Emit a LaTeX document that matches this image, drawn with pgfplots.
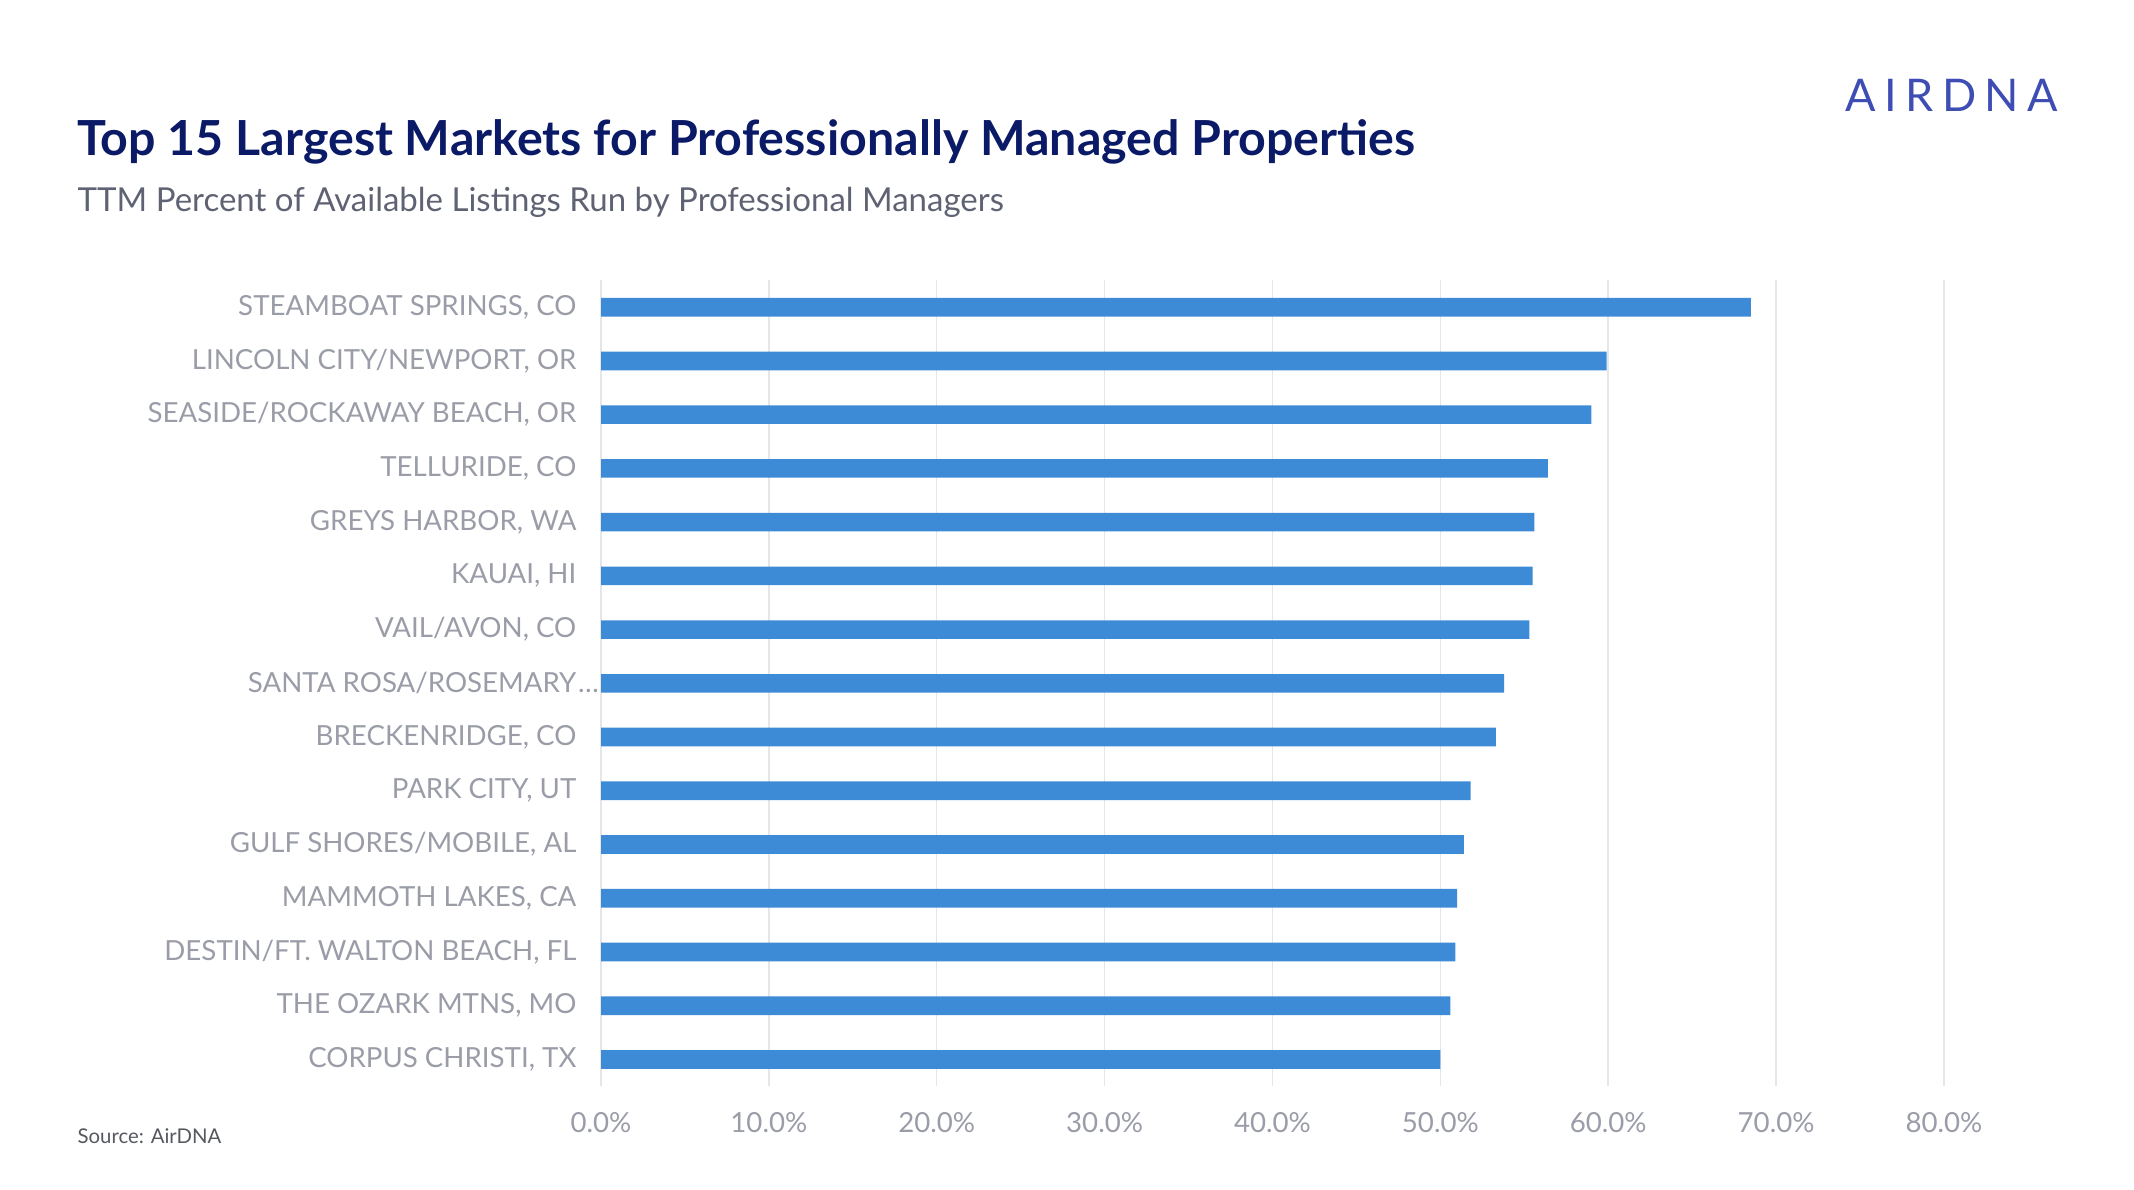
\documentclass[border=0pt]{standalone}
\usepackage{pgfplots}
\pgfplotsset{compat=1.18}
\usepackage{fontspec}
\setmainfont{Lato}
\definecolor{titlecol}{HTML}{0B1A66}
\definecolor{subcol}{HTML}{5F6272}
\definecolor{labcol}{HTML}{9A9DA8}
\definecolor{barcol}{HTML}{3D8AD6}
\definecolor{gridcol}{HTML}{E4E6EA}
\definecolor{logocol}{HTML}{3D4DB3}
\definecolor{srccol}{HTML}{55585F}
\begin{document}
\begin{tikzpicture}
\path[use as bounding box] (0pt,0pt) rectangle (640.2pt,356.7pt);
\node[anchor=base west, inner sep=0pt, text=titlecol, font=\fontsize{14.5}{17}\selectfont\bfseries] at (23.1pt,310.0pt) {Top 15 Largest Markets for Professionally Managed Properties};
\node[anchor=base west, inner sep=0pt, text=subcol, font=\fontsize{9.9}{12}\selectfont] at (23.1pt,293.2pt) {TTM Percent of Available Listings Run by Professional Managers};
\node[anchor=base east, inner sep=0pt, text=logocol, font=\fontsize{13.5}{16}\selectfont\addfontfeatures{LetterSpace=19}] at (617.7pt,323.1pt) {AIRDNA};
\node[anchor=base west, inner sep=0pt, text=srccol, font=\fontsize{6.1}{8}\selectfont] at (23.1pt,13.6pt) {Source: AirDNA};
\begin{axis}[
  at={(180.3pt,30.8pt)}, anchor=south west,
  scale only axis, width=402.9pt, height=241.8pt,
  xbar, bar width=5.6pt,
  xmin=0, xmax=80, ymin=-0.5, ymax=14.5,
  axis line style={draw=none},
  xtick={0,10,...,80},
  xticklabels={0.0\%,10.0\%,20.0\%,30.0\%,40.0\%,50.0\%,60.0\%,70.0\%,80.0\%},
  ytick={0,...,14},
  yticklabels={{CORPUS CHRISTI, TX}, {THE OZARK MTNS, MO}, {DESTIN/FT. WALTON BEACH, FL}, {MAMMOTH LAKES, CA}, {GULF SHORES/MOBILE, AL}, {PARK CITY, UT}, {BRECKENRIDGE, CO}, {SANTA ROSA/ROSEMARY\rlap{\kern.5pt\dots}}, {VAIL/AVON, CO}, {KAUAI, HI}, {GREYS HARBOR, WA}, {TELLURIDE, CO}, {SEASIDE/ROCKAWAY BEACH, OR}, {LINCOLN CITY/NEWPORT, OR}, {STEAMBOAT SPRINGS, CO}},
  major tick length=0pt,
  xmajorgrids, grid style={gridcol, line width=0.45pt},
  tick label style={text=labcol, font=\fontsize{8.3}{10}\selectfont},
  yticklabel style={anchor=east, inner sep=0pt, xshift=-7.2pt},
  xticklabel style={anchor=north, inner sep=0pt, yshift=-7.5pt},
  clip=false,
]
\addplot[fill=barcol, draw=none] coordinates {
(50.0,0) (50.6,1) (50.9,2) (51.0,3) (51.4,4) (51.8,5) (53.3,6) (53.8,7) (55.3,8) (55.5,9) (55.6,10) (56.4,11) (59.0,12) (59.9,13) (68.5,14)
};
\end{axis}
\end{tikzpicture}
\end{document}
